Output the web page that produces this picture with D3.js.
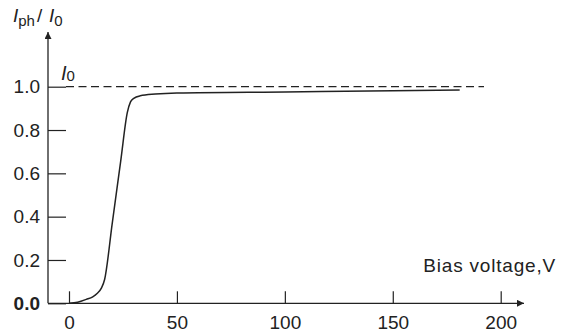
<!DOCTYPE html>
<html>
<head>
<meta charset="utf-8">
<script src="https://cdn.jsdelivr.net/npm/d3@7"></script>
<style>
  body { margin: 0; background: #fff; }
  text { font-family: "Liberation Sans", Arial, sans-serif; fill: #222; }
</style>
</head>
<body>
<svg id="chart" width="564" height="334"></svg>
<script>
// photocurrent ratio vs bias voltage
const voltage = [0, 4, 8, 11, 13, 15, 16.5, 20, 24, 27, 28.5, 30, 33, 40, 50, 100, 150, 181]
const ratio = [0, 0.005, 0.018, 0.03, 0.045, 0.07, 0.11, 0.367, 0.66, 0.88, 0.93, 0.946, 0.958, 0.966, 0.971, 0.976, 0.981, 0.985]
const xTicks = [0, 50, 100, 150, 200]
const yTicks = [0, 0.2, 0.4, 0.6, 0.8, 1.0]
const refLevel = 1.0

const svg = d3.select('#chart')
const axisX0 = 48, axisY0 = 303.3

const x = d3.scaleLinear().domain([0, 200]).range([69, 500.7])
const y = d3.scaleLinear().domain([0, 1]).range([303.3, 86.7])

const defs = svg.append('defs')
defs.append('marker')
  .attr('id', 'arr')
  .attr('viewBox', '0 0 10 10')
  .attr('refX', 10).attr('refY', 5)
  .attr('markerWidth', 7).attr('markerHeight', 7)
  .attr('markerUnits', 'userSpaceOnUse')
  .attr('orient', 'auto')
  .append('path')
    .attr('d', 'M0,0 L10,5 L0,10 Z')
    .attr('fill', '#222')

// axis lines with arrows
svg.append('line')
  .attr('x1', axisX0).attr('y1', axisY0)
  .attr('x2', 524).attr('y2', axisY0)
  .attr('stroke', '#222').attr('stroke-width', 1.3)
  .attr('marker-end', 'url(#arr)')
svg.append('line')
  .attr('x1', axisX0).attr('y1', axisY0)
  .attr('x2', axisX0).attr('y2', 32)
  .attr('stroke', '#222').attr('stroke-width', 1.3)
  .attr('marker-end', 'url(#arr)')

const xAxis = svg.append('g')
  .attr('transform', `translate(0,${axisY0})`)
  .call(d3.axisBottom(x).tickValues(xTicks).tickSizeInner(-12).tickSizeOuter(0).tickPadding(12))
xAxis.select('.domain').remove()

const yAxis = svg.append('g')
  .attr('transform', `translate(${axisX0},0)`)
  .call(d3.axisLeft(y).tickValues(yTicks).tickSizeInner(-18).tickSizeOuter(0).tickPadding(8).tickFormat(d3.format('.1f')))
yAxis.select('.domain').remove()

svg.selectAll('.tick line').attr('stroke', '#222').attr('stroke-width', 1.2)
svg.selectAll('.tick text')
  .attr('font-family', '"Liberation Sans", Arial, sans-serif')
  .attr('font-size', 19)
  .attr('fill', '#222')
yAxis.selectAll('.tick text').filter(d => d === 0).attr('font-weight', 'bold')

// I0 reference level
svg.append('line')
  .attr('x1', axisX0 + 18).attr('x2', 484)
  .attr('y1', y(refLevel)).attr('y2', y(refLevel))
  .attr('stroke', '#222').attr('stroke-width', 1.2)
  .attr('stroke-dasharray', '8,4.5')

// curve
const line = d3.line()
  .x((d, i) => x(voltage[i]))
  .y(d => y(d))
  .curve(d3.curveMonotoneX)

svg.append('path')
  .datum(ratio)
  .attr('d', line)
  .attr('fill', 'none')
  .attr('stroke', '#222')
  .attr('stroke-width', 1.5)

// labels
const title = svg.append('text').attr('y', 22).attr('font-size', 19)
title.append('tspan').attr('x', 13).attr('font-style', 'italic').text('I')
title.append('tspan').attr('dy', 4).attr('font-size', 15).text('ph')
title.append('tspan').attr('dy', -4).attr('x', 37).text('/')
title.append('tspan').attr('x', 49).attr('font-style', 'italic').text('I')
title.append('tspan').attr('dy', 4).attr('font-size', 15).text('0')

const i0 = svg.append('text').attr('y', 80).attr('font-size', 20)
i0.append('tspan').attr('x', 61).attr('font-style', 'italic').text('I')
i0.append('tspan').attr('dy', 1).attr('font-size', 15).text('0')

svg.append('text')
  .attr('x', 556).attr('y', 271.5)
  .attr('text-anchor', 'end')
  .attr('font-size', 19)
  .attr('letter-spacing', 0.8)
  .text('Bias voltage,V')
</script>
</body>
</html>
